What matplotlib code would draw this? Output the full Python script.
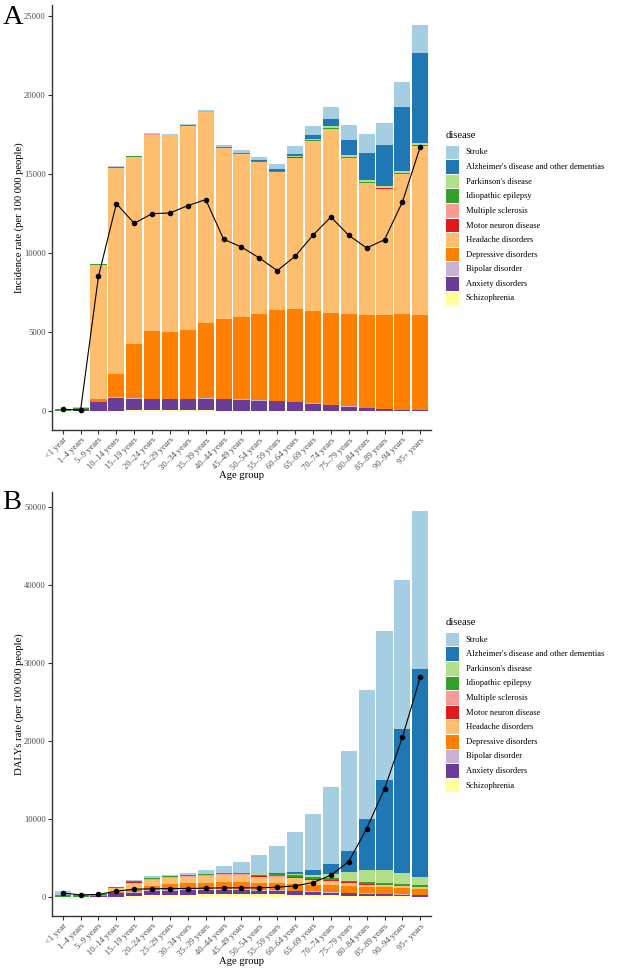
import matplotlib
matplotlib.use('Agg')
import matplotlib.pyplot as plt
from matplotlib.patches import Rectangle
import numpy as np

plt.rcParams['font.family'] = ['Liberation Serif', 'DejaVu Serif']

age_groups = ["<1 year", "1–4 years", "5–9 years", "10–14 years", "15–19 years", "20–24 years",
              "25–29 years", "30–34 years", "35–39 years", "40–44 years", "45–49 years", "50–54 years",
              "55–59 years", "60–64 years", "65–69 years", "70–74 years", "75–79 years", "80–84 years",
              "85–89 years", "90–94 years", "95+ years"]

diseases = ["Stroke", "Alzheimer's disease and other dementias", "Parkinson's disease",
            "Idiopathic epilepsy", "Multiple sclerosis", "Motor neuron disease", "Headache disorders",
            "Depressive disorders", "Bipolar disorder", "Anxiety disorders", "Schizophrenia"]
colors = ["#A6CEE3", "#1F78B4", "#B2DF8A", "#33A02C", "#FB9A99", "#E31A1C", "#FDBF6F",
          "#FF7F00", "#CAB2D6", "#6A3D9A", "#FFFF99"]

# ---- Panel A: incidence rate (per 100 000) ----
inc_stroke = [20, 15, 20, 20, 30, 50, 60, 60, 60, 100, 170, 210, 330, 485, 610, 760, 970, 1185, 1375, 1600, 1775]
inc_alz = [0, 0, 0, 0, 0, 0, 0, 0, 0, 0, 5, 30, 90, 125, 250, 485, 970, 1725, 2590, 4035, 5715]
inc_park = [0, 0, 0, 0, 0, 0, 0, 0, 0, 0, 5, 15, 25, 45, 70, 100, 130, 140, 130, 130, 110]
inc_epi = [80, 60, 60, 50, 50, 45, 40, 40, 40, 40, 40, 40, 40, 45, 50, 50, 50, 50, 50, 50, 50]
inc_ms = [0, 0, 1, 3, 6, 8, 8, 7, 6, 5, 4, 3, 2, 2, 1, 1, 1, 1, 0, 0, 0]
inc_mnd = [1, 0, 0, 0, 0, 0, 0, 1, 1, 2, 3, 4, 5, 6, 7, 7, 6, 5, 4, 3, 2]
inc_head = [0, 30, 8480, 13057, 11810, 12415, 12460, 12930, 13360, 10825, 10340, 9660, 8745, 9600,
            10750, 11625, 9860, 8340, 8000, 8910, 10740]
inc_dep = [0, 0, 150, 1480, 3430, 4300, 4205, 4340, 4790, 5070, 5220, 5445, 5780, 5890, 5850, 5850,
           5850, 5876, 5937, 6032, 6022]
inc_bip = [0, 0, 5, 40, 40, 30, 25, 20, 15, 15, 12, 10, 10, 8, 8, 6, 5, 4, 3, 3, 3]
inc_anx = [0, 100, 560, 800, 740, 700, 700, 710, 750, 730, 690, 640, 580, 520, 450, 350, 265, 180, 120, 55, 15]
inc_schiz = [0, 0, 0, 10, 30, 35, 30, 20, 15, 10, 8, 5, 3, 2, 1, 1, 0, 0, 0, 0, 0]
inc_line = [90, 45, 8505, 13100, 11860, 12470, 12515, 12980, 13360, 10850, 10360, 9665, 8865, 9775,
            11110, 12260, 11100, 10300, 10820, 13210, 16710]

# ---- Panel B: DALYs rate (per 100 000) ----
daly_stroke = [480, 100, 45, 40, 100, 190, 240, 325, 580, 890, 1410, 2440, 3410, 5090, 7205, 9845,
               12830, 16455, 18990, 19205, 20310]
daly_alz = [0, 0, 0, 0, 0, 0, 0, 0, 0, 10, 30, 100, 170, 300, 640, 1360, 2640, 6560, 11600, 18400, 26640]
daly_park = [0, 0, 0, 0, 0, 0, 0, 0, 0, 5, 15, 40, 70, 120, 210, 550, 1150, 1620, 1700, 1450, 1065]
daly_epi = [250, 150, 60, 120, 170, 210, 130, 130, 130, 130, 150, 130, 200, 250, 250, 210, 170, 200, 200, 210, 200]
daly_ms = [0, 0, 5, 15, 40, 60, 70, 80, 85, 90, 90, 90, 80, 70, 60, 50, 40, 30, 20, 10, 5]
daly_mnd = [20, 10, 5, 5, 10, 10, 15, 20, 25, 30, 40, 50, 60, 70, 80, 85, 80, 60, 40, 20, 10]
daly_head = [0, 10, 70, 440, 810, 725, 770, 810, 850, 940, 900, 810, 810, 770, 700, 550, 380, 260, 250, 250, 250]
daly_dep = [0, 0, 30, 200, 430, 640, 725, 770, 810, 850, 850, 850, 850, 850, 770, 850, 900, 850, 850, 810, 770]
daly_bip = [0, 0, 5, 30, 60, 100, 110, 120, 120, 120, 110, 100, 90, 80, 70, 60, 50, 40, 30, 25, 20]
daly_anx = [0, 20, 150, 400, 400, 500, 540, 600, 600, 600, 580, 500, 480, 450, 420, 380, 340, 300, 260, 230, 190]
daly_schiz = [0, 0, 10, 40, 130, 210, 255, 255, 300, 300, 300, 300, 300, 260, 210, 170, 130, 100, 80, 60, 40]
daly_line = [470, 255, 300, 725, 980, 1020, 1065, 1065, 1110, 1150, 1150, 1150, 1235, 1405, 1830, 2770,
             4520, 8740, 13855, 20460, 28180]

inc_series = [inc_stroke, inc_alz, inc_park, inc_epi, inc_ms, inc_mnd, inc_head, inc_dep, inc_bip, inc_anx, inc_schiz]
daly_series = [daly_stroke, daly_alz, daly_park, daly_epi, daly_ms, daly_mnd, daly_head, daly_dep, daly_bip, daly_anx, daly_schiz]

W, H = 618, 972
fig = plt.figure(figsize=(W / 100, H / 100), dpi=100)


def fx(px):
    return px / W


def fy(py):
    return 1 - py / H


tick_col = '#4D4D4D'
line_col = '#333333'


def panel(top_px, bot_px, series, line_vals, yticks, ylim, ylabel, letter, letter_base):
    ax = fig.add_axes([fx(52), fy(bot_px), fx(431) - fx(52), (bot_px - top_px) / H])
    x = np.arange(1, len(age_groups) + 1)
    bottom = np.zeros(len(age_groups))
    for name, col, vals in reversed(list(zip(diseases, colors, series))):
        v = np.array(vals, dtype=float)
        ax.bar(x, v, bottom=bottom, width=0.9, color=col, edgecolor='none', linewidth=0)
        bottom += v
    ax.plot(x, line_vals, color='black', lw=0.8, marker='o', ms=3.0, zorder=5)
    ax.set_xlim(0.4, len(age_groups) + 0.6)
    ax.set_ylim(*ylim)
    ax.set_yticks(yticks)
    ax.set_yticklabels([str(t) for t in yticks])
    ax.set_xticks(x)
    ax.set_xticklabels(age_groups, rotation=45, ha='right', va='top', rotation_mode='anchor')
    for s in ['top', 'right']:
        ax.spines[s].set_visible(False)
    for s in ['left', 'bottom']:
        ax.spines[s].set_color(line_col)
        ax.spines[s].set_linewidth(1.0)
    ax.tick_params(axis='both', colors=line_col, labelcolor=tick_col, labelsize=6.2,
                   length=2.6, width=0.8, pad=1.8)
    # axis titles
    fig.text(fx(19), fy((top_px + bot_px) / 2), ylabel, rotation=90, ha='center', va='center',
             fontsize=7.7, color='black')
    fig.text(fx(241.5), fy(bot_px + 45), "Age group", ha='center', va='center', fontsize=7.7,
             color='black')
    fig.text(fx(2.5), fy(letter_base), letter, ha='left', va='baseline', fontsize=20.5, color='black')
    # legend
    oy = top_px - 5
    fig.text(fx(445.7), fy(135 + oy), "disease", ha='left', va='center', fontsize=7.7, color='black')
    for i, (name, col) in enumerate(zip(diseases, colors)):
        ytop = 145.7 + i * 14.6 + oy
        fig.patches.append(Rectangle((fx(445.7), fy(ytop + 13.6)), 13.6 / W, 13.6 / H,
                                     transform=fig.transFigure, facecolor=col, edgecolor='none'))
        fig.text(fx(465.7), fy(ytop + 6.8), name, ha='left', va='center', fontsize=6.1, color='black')
    return ax


panel(5, 430, inc_series, inc_line, [0, 5000, 10000, 15000, 20000, 25000], (-1222, 25677),
      "Incidence rate (per 100 000 people)", "A", 24)
panel(492, 916, daly_series, daly_line, [0, 10000, 20000, 30000, 40000, 50000], (-2460, 51900),
      "DALYs rate (per 100 000 people)", "B", 509)

fig.savefig("out.png", dpi=100)
